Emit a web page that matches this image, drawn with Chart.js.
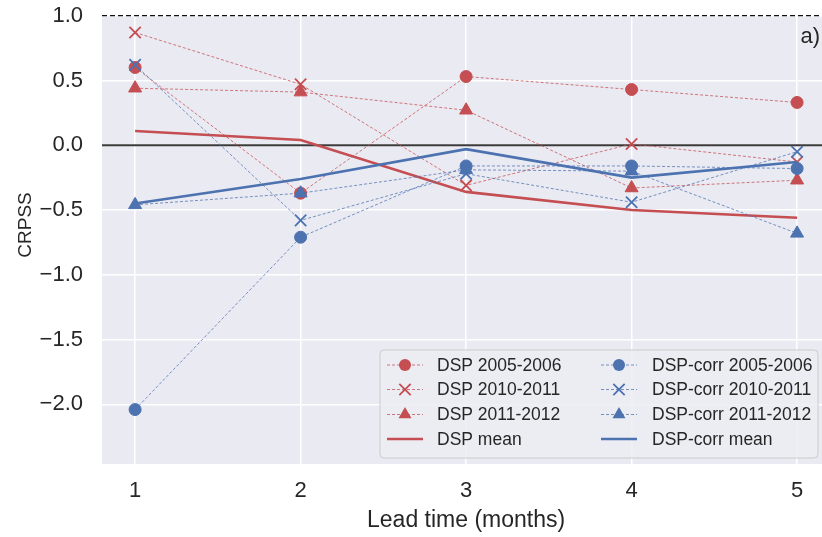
<!DOCTYPE html>
<html>
<head>
<meta charset="utf-8">
<script src="https://cdn.jsdelivr.net/npm/chart.js@4.4.1/dist/chart.umd.min.js"></script>
<style>
  html, body { margin: 0; padding: 0; background: #ffffff; overflow: hidden; }
  #wrap { width: 840px; height: 537px; }
</style>
</head>
<body>
<div id="wrap"><canvas id="c" width="840" height="537"></canvas></div>
<script>
// ---- data ----
const leadTime = [1, 2, 3, 4, 5];
const yTicks = [-2.0, -1.5, -1.0, -0.5, 0.0, 0.5, 1.0];
const dsp0506  = [0.60, -0.37, 0.53, 0.43, 0.33];
const dsp1011  = [0.87, 0.47, -0.31, 0.01, -0.13];
const dsp1112  = [0.44, 0.41, 0.27, -0.33, -0.27];
const dspMean  = [0.11, 0.04, -0.36, -0.50, -0.56];
const corr0506 = [-2.04, -0.71, -0.16, -0.16, -0.18];
const corr1011 = [0.62, -0.58, -0.22, -0.44, -0.05];
const corr1112 = [-0.46, -0.37, -0.19, -0.20, -0.68];
const corrMean = [-0.45, -0.26, -0.03, -0.25, -0.13];
const refZero = [0.0, 0.0];
const refOne = [1.0, 1.0];
const xRange = [0.8, 5.2];

const RED = '#C44E52', BLUE = '#4C72B0';
const RED_L = 'rgba(196,78,82,0.75)', BLUE_L = 'rgba(76,114,176,0.75)';
const TXT = '#262626';
const FONT = "'Liberation Sans', Arial, sans-serif";

const pts = arr => arr.map((v, i) => ({ x: leadTime[i], y: v }));
const refPts = arr => arr.map((v, i) => ({ x: xRange[i], y: v }));

function yearSet(label, data, color, light, style, radius, order) {
  return {
    label, data: pts(data), order,
    borderColor: light, borderWidth: 1, borderDash: [3, 2],
    pointStyle: style, pointRadius: radius,
    pointBackgroundColor: color, pointBorderColor: color,
    pointBorderWidth: style === 'crossRot' ? 1.8 : 1,
    fill: false, tension: 0
  };
}
function meanSet(label, data, color, order) {
  return {
    label, data: pts(data), order,
    borderColor: color, borderWidth: 2.6, pointRadius: 0,
    fill: false, tension: 0
  };
}

const datasets = [
  { label: '_zero', data: refPts(refZero), borderColor: '#3a3a3a', borderWidth: 2.2, pointRadius: 0, order: 30 },
  { label: '_one', data: refPts(refOne), borderColor: '#111111', borderWidth: 1.4, borderDash: [5, 3], pointRadius: 0, order: 29 },
  yearSet('DSP 2005-2006', dsp0506, RED, RED_L, 'circle', 6, 20),
  yearSet('DSP 2010-2011', dsp1011, RED, RED_L, 'crossRot', 8, 19),
  yearSet('DSP 2011-2012', dsp1112, RED, RED_L, 'triangle', 7.5, 18),
  meanSet('DSP mean', dspMean, RED, 17),
  yearSet('DSP-corr 2005-2006', corr0506, BLUE, BLUE_L, 'circle', 6, 16),
  yearSet('DSP-corr 2010-2011', corr1011, BLUE, BLUE_L, 'crossRot', 8, 15),
  yearSet('DSP-corr 2011-2012', corr1112, BLUE, BLUE_L, 'triangle', 7.5, 14),
  meanSet('DSP-corr mean', corrMean, BLUE, 13)
];

function drawMarker(ctx, style, r, x, y, color, bw) {
  ctx.save();
  ctx.fillStyle = color; ctx.strokeStyle = color; ctx.lineWidth = bw; ctx.setLineDash([]);
  ctx.beginPath();
  if (style === 'circle') {
    ctx.arc(x, y, r, 0, Math.PI * 2); ctx.fill();
  } else if (style === 'triangle') {
    for (let k = 0; k < 3; k++) {
      const a = k * 2 * Math.PI / 3;
      const px = x + Math.sin(a) * r, py = y - Math.cos(a) * r;
      if (k === 0) ctx.moveTo(px, py); else ctx.lineTo(px, py);
    }
    ctx.closePath(); ctx.fill();
  } else if (style === 'crossRot') {
    const d = r * Math.SQRT1_2;
    ctx.moveTo(x - d, y - d); ctx.lineTo(x + d, y + d);
    ctx.moveTo(x - d, y + d); ctx.lineTo(x + d, y - d);
    ctx.stroke();
  }
  ctx.restore();
}

const decor = {
  id: 'decor',
  beforeDraw(chart) {
    const { ctx, chartArea: a } = chart;
    ctx.save();
    ctx.fillStyle = '#EAEAF2';
    ctx.fillRect(a.left, a.top, a.right - a.left, a.bottom - a.top);
    ctx.restore();
  },
  afterDraw(chart) {
    const ctx = chart.ctx;
    // y axis title
    ctx.save();
    ctx.translate(26, 225);
    ctx.rotate(-Math.PI / 2);
    ctx.font = '19px ' + FONT;
    ctx.fillStyle = TXT; ctx.textAlign = 'center'; ctx.textBaseline = 'middle';
    ctx.fillText('CRPSS', 0, 0);
    ctx.restore();
    // panel label
    ctx.save();
    ctx.font = '22px ' + FONT;
    ctx.fillStyle = TXT; ctx.textAlign = 'right'; ctx.textBaseline = 'middle';
    ctx.fillText('a)', 820, 37);
    ctx.restore();
    // legend
    const box = { x: 380, y: 350, w: 438, h: 108 };
    ctx.save();
    ctx.beginPath();
    if (ctx.roundRect) ctx.roundRect(box.x, box.y, box.w, box.h, 4); else ctx.rect(box.x, box.y, box.w, box.h);
    ctx.fillStyle = 'rgba(236,236,243,0.85)'; ctx.fill();
    ctx.strokeStyle = '#CCCCCC'; ctx.lineWidth = 1; ctx.stroke();
    ctx.restore();
    const cols = [
      { h0: 387, h1: 423, tx: 437, sets: [2, 3, 4, 5] },
      { h0: 601, h1: 637, tx: 652, sets: [6, 7, 8, 9] }
    ];
    const rows = [365, 389.5, 414.5, 439];
    cols.forEach(col => {
      col.sets.forEach((di, ri) => {
        const ds = chart.data.datasets[di];
        const y = rows[ri];
        ctx.save();
        ctx.strokeStyle = ds.borderColor; ctx.lineWidth = ds.borderWidth;
        ctx.setLineDash(ds.borderDash || []);
        ctx.beginPath(); ctx.moveTo(col.h0, y); ctx.lineTo(col.h1, y); ctx.stroke();
        ctx.restore();
        if (ds.pointRadius > 0) {
          drawMarker(ctx, ds.pointStyle, ds.pointRadius, (col.h0 + col.h1) / 2, y, ds.pointBackgroundColor, ds.pointBorderWidth);
        }
        ctx.save();
        ctx.font = '17.5px ' + FONT; ctx.fillStyle = TXT;
        ctx.textAlign = 'left'; ctx.textBaseline = 'middle';
        ctx.fillText(ds.label, col.tx, y + 1);
        ctx.restore();
      });
    });
  }
};

new Chart(document.getElementById('c'), {
  type: 'line',
  data: { datasets },
  plugins: [decor],
  options: {
    responsive: false,
    devicePixelRatio: 1,
    animation: false,
    events: [],
    layout: { padding: { top: 15, left: 0, right: 8, bottom: 0 } },
    plugins: { legend: { display: false }, tooltip: { enabled: false } },
    scales: {
      x: {
        type: 'linear', min: xRange[0], max: xRange[1],
        afterBuildTicks: s => { s.ticks = leadTime.map(v => ({ value: v })); },
        afterFit: s => { s.height = 73; },
        grid: { color: '#FFFFFF', lineWidth: 1.5, drawTicks: true, tickLength: 14, tickColor: 'rgba(255,255,255,0)' },
        border: { display: false },
        ticks: { color: TXT, font: { family: FONT, size: 22 }, padding: 0, callback: v => String(v) },
        title: { display: true, text: 'Lead time (months)', color: TXT, font: { family: FONT, size: 23 }, padding: { top: 0, bottom: 3 } }
      },
      y: {
        type: 'linear', min: -2.46, max: 1.005,
        afterBuildTicks: s => { s.ticks = yTicks.map(v => ({ value: v })); },
        afterFit: s => { s.width = 102; },
        grid: { color: '#FFFFFF', lineWidth: 1.5, drawTicks: true, tickLength: 19, tickColor: 'rgba(255,255,255,0)' },
        border: { display: false },
        ticks: {
          color: TXT, font: { family: FONT, size: 22 }, padding: 0,
          callback: v => (v < 0 ? '\u2212' : '') + Math.abs(v).toFixed(1)
        },
        title: { display: false }
      }
    }
  }
});
</script>
</body>
</html>
